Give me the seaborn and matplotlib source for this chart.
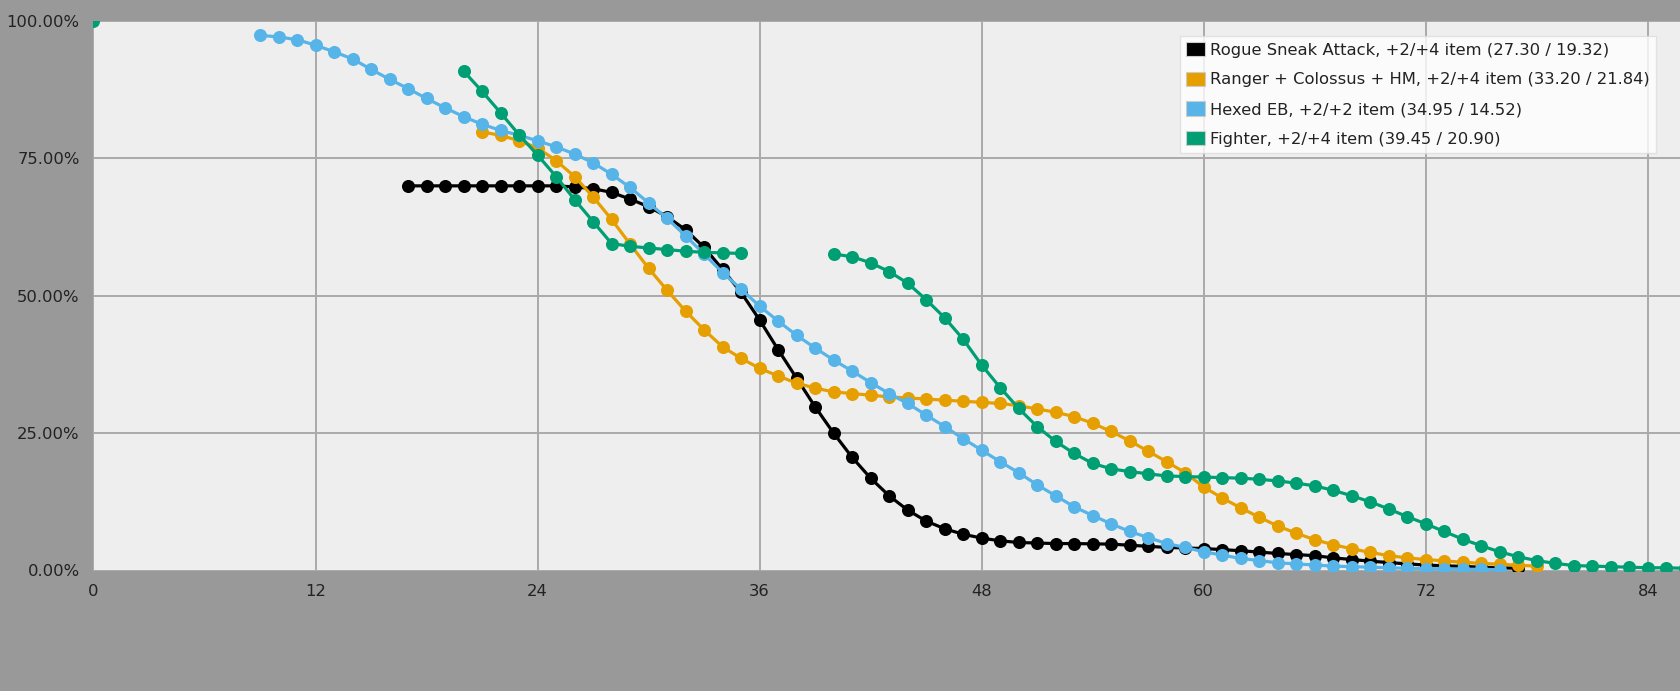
import matplotlib
matplotlib.use("Agg")
import matplotlib.pyplot as plt
from matplotlib.patches import Patch
import numpy as np
import pandas as pd
import seaborn as sns

# ---------------- data ----------------
series_names = [
    "Rogue Sneak Attack, +2/+4 item (27.30 / 19.32)",
    "Ranger + Colossus + HM, +2/+4 item (33.20 / 21.84)",
    "Hexed EB, +2/+2 item (34.95 / 14.52)",
    "Fighter, +2/+4 item (39.45 / 20.90)",
]
series_colors = ["#000000", "#E69F00", "#56B4E9", "#009E73"]

rogue_x = list(range(17, 78))
rogue_y = [70.0, 70.0, 70.0, 70.0, 70.0, 70.0, 70.0, 70.0, 70.0,
           69.8, 69.5, 68.8, 67.6, 66.2, 64.4, 62.0, 58.8, 54.8, 50.6,
           45.6, 40.2, 35.0, 29.8, 25.0, 20.6, 16.8, 13.6, 11.0, 9.0,
           7.6, 6.6, 5.9, 5.4, 5.1, 5.0, 4.9, 4.9, 4.85, 4.8,
           4.6, 4.4, 4.2, 4.1, 4.0, 3.8, 3.6, 3.35, 3.1, 2.9,
           2.7, 2.3, 2.0, 1.7, 1.45, 1.2, 1.0, 0.85, 0.75, 0.6,
           0.5, 0.4]

ranger_x = list(range(21, 79))
ranger_y = [79.8, 79.2, 78.2, 76.9, 74.6, 71.7, 68.0, 63.9, 59.4, 55.0,
            51.0, 47.2, 43.8, 40.7, 38.6, 36.8, 35.4, 34.1, 33.2, 32.5,
            32.2, 31.9, 31.6, 31.4, 31.2, 31.0, 30.8, 30.6, 30.4, 30.0,
            29.4, 28.8, 28.0, 26.8, 25.3, 23.6, 21.7, 19.8, 17.8, 15.2,
            13.2, 11.4, 9.7, 8.1, 6.8, 5.6, 4.7, 3.95, 3.3, 2.7,
            2.3, 2.0, 1.75, 1.5, 1.3, 1.15, 0.95, 0.8]

hexed_x = list(range(9, 77))
hexed_y = [97.4, 97.1, 96.6, 95.6, 94.4, 93.1, 91.2, 89.4, 87.7, 85.9,
           84.2, 82.6, 81.2, 80.1, 79.2, 78.2, 77.1, 75.8, 74.2, 72.1,
           69.7, 66.9, 64.1, 60.9, 57.6, 54.2, 51.2, 48.1, 45.4, 42.8,
           40.5, 38.3, 36.3, 34.2, 32.2, 30.4, 28.3, 26.2, 24.0, 21.9,
           19.8, 17.8, 15.6, 13.6, 11.6, 10.0, 8.5, 7.1, 6.0, 4.9,
           4.2, 3.4, 2.8, 2.2, 1.8, 1.4, 1.2, 1.0, 0.8, 0.7,
           0.6, 0.5, 0.4, 0.35, 0.3, 0.25, 0.2, 0.15]

# fighter has gaps (None) in its data
fighter_x = [0, 1] + list(range(20, 36)) + [36] + list(range(40, 87))
fighter_y = ([100.0, None] +
             [90.9, 87.2, 83.3, 79.3, 75.6, 71.7, 67.5, 63.5, 59.5, 59.0,
              58.7, 58.4, 58.1, 57.9, 57.8, 57.7] +
             [None] +
             [57.6, 57.1, 56.0, 54.4, 52.3, 49.3, 46.0, 42.1, 37.4, 33.3,
              29.5, 26.2, 23.5, 21.3, 19.5, 18.5, 18.0, 17.6, 17.2, 17.1,
              17.0, 16.9, 16.8, 16.6, 16.3, 15.9, 15.4, 14.6, 13.6, 12.5,
              11.2, 9.8, 8.5, 7.1, 5.7, 4.5, 3.4, 2.5, 1.8, 1.3,
              0.9, 0.8, 0.7, 0.6, 0.5, 0.5, 0.4])

x_ticks = [0, 12, 24, 36, 48, 60, 72, 84]
y_ticks = [0, 25, 50, 75, 100]

# ---------------- build long table (split at gaps) ----------------
rows = []
for name, xs, ys in zip(series_names,
                        [rogue_x, ranger_x, hexed_x, fighter_x],
                        [rogue_y, ranger_y, hexed_y, fighter_y]):
    seg = 0
    for xv, yv in zip(xs, ys):
        if yv is None:
            seg += 1
            continue
        rows.append({"x": xv, "y": yv, "series": name, "unit": seg})
df = pd.DataFrame(rows)

# ---------------- figure ----------------
W, H = 1681, 691
fig = plt.figure(figsize=(W / 100, H / 100), dpi=100, facecolor="#999999")
left_px, right_px, top_px, bottom_px = 93.5, 1681, 21, 570.5
ax = fig.add_axes([left_px / W, 1 - bottom_px / H,
                   (right_px - left_px) / W, (bottom_px - top_px) / H])
ax.set_facecolor("#eeeeee")

palette = dict(zip(series_names, series_colors))
sns.lineplot(data=df, x="x", y="y", hue="series", units="unit",
             estimator=None, hue_order=series_names, palette=palette,
             marker="o", markersize=9.4, markeredgewidth=0,
             linewidth=2.3, sort=True, legend=False, ax=ax)

ax.set_xlim(0, 85.8)
ax.set_ylim(0, 100)
ax.set_xticks(x_ticks)
ax.set_xticklabels([str(v) for v in x_ticks])
ax.set_yticks(y_ticks)
ax.set_yticklabels([f"{v:.2f}%" for v in y_ticks])
ax.set_xlabel("")
ax.set_ylabel("")
ax.grid(True, color="#aaaaaa", linewidth=1.4)
ax.set_axisbelow(True)
for s in ax.spines.values():
    s.set_visible(False)
ax.tick_params(axis="both", length=0, labelsize=11.8, colors="#222222")
ax.tick_params(axis="y", pad=10)
ax.tick_params(axis="x", pad=10)

handles = [Patch(facecolor=c, edgecolor="#cccccc", linewidth=0.8) for c in series_colors]
leg = ax.legend(handles, series_names, loc="upper right",
                bbox_to_anchor=(0.9843, 0.9733), borderaxespad=0,
                frameon=True, fancybox=False, framealpha=0.8,
                facecolor="white", edgecolor="#dddddd", fontsize=11.8,
                handlelength=1.15, handleheight=0.95, handletextpad=0.3,
                labelspacing=0.86, borderpad=0.38)
for t in leg.get_texts():
    t.set_color("#222222")

fig.savefig("out.png", dpi=100, facecolor=fig.get_facecolor())
